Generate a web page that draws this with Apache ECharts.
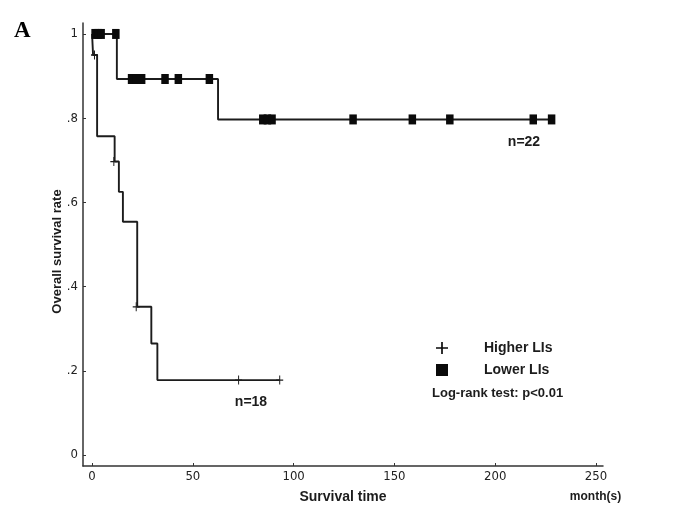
<!DOCTYPE html>
<html>
<head>
<meta charset="utf-8">
<script src="https://cdn.jsdelivr.net/npm/echarts@6/dist/echarts.min.js"></script>
<style>
html,body{margin:0;padding:0;background:#fff;}
#chart{width:688px;height:527px;}
</style>
</head>
<body>
<div id="chart"></div>
<script>
// ---- data ----
const xTicks = [0, 50, 100, 150, 200, 250];
const yTicks = [0, 0.2, 0.4, 0.6, 0.8, 1];
const yTickLabels = ['0', '.2', '.4', '.6', '.8', '1'];

// Kaplan-Meier steps: [time of drop, new survival level]
const higherSteps = [[0,1],[0.5,0.95],[2.5,0.757],[11.2,0.697],[13.3,0.625],[15.3,0.554],[22.4,0.352],[29.4,0.265],[32.4,0.178],[93.1,0.178]];
const higherCensored = [[1.2,0.95],[10.8,0.697],[21.9,0.352],[72.7,0.178],[93.1,0.178]];

const lowerSteps = [[0,1],[12.3,0.893],[62.5,0.797],[228,0.797]];
const lowerCensored = [[1.5,1],[3,1],[4.5,1],[11.8,1],
  [19.6,0.893],[22,0.893],[24.6,0.893],[36.2,0.893],[42.8,0.893],[58.2,0.893],
  [84.7,0.797],[87,0.797],[89.3,0.797],[129.5,0.797],[158.9,0.797],[177.5,0.797],[218.9,0.797],[228,0.797]];

const seriesNames = ['Higher LIs', 'Lower LIs'];

// ---- chart ----
const crossPath = 'path://M4.3,0h1.4v10h-1.4zM0,4.3h10v1.4h-10z';
const ink = '#1c1c1c';
const tickFont = 'Liberation Sans Narrow, DejaVu Sans Condensed, Arial, sans-serif';
const boldFont = 'Liberation Sans, Arial, sans-serif';

const chart = echarts.init(document.getElementById('chart'), null, {renderer: 'canvas'});
chart.setOption({
  animation: false,
  backgroundColor: '#fff',
  grid: {left: 83, right: 85, top: 23, bottom: 61, containLabel: false},
  xAxis: {
    type: 'value', min: -4.5, max: 253.5,
    name: 'Survival time', nameLocation: 'middle', nameGap: 24, nameMoveOverlap: false,
    nameTextStyle: {fontFamily: boldFont, fontWeight: 'bold', fontSize: 14, color: ink},
    axisLine: {show: true, onZero: false, lineStyle: {color: '#333', width: 1.5}},
    axisTick: {show: true, inside: true, length: 3, customValues: xTicks, lineStyle: {color: '#333', width: 1}},
    axisLabel: {customValues: xTicks, margin: 4, fontFamily: tickFont, fontSize: 13, color: '#222'},
    splitLine: {show: false}
  },
  yAxis: {
    type: 'value', min: -0.026, max: 1.026,
    name: 'Overall survival rate', nameLocation: 'middle', nameGap: 19, nameRotate: 90, nameMoveOverlap: false,
    nameTextStyle: {fontFamily: boldFont, fontWeight: 'bold', fontSize: 13, color: ink, padding: [0, 14, 0, 0]},
    axisLine: {show: true, onZero: false, lineStyle: {color: '#333', width: 1.5}},
    axisTick: {show: true, inside: true, length: 3, customValues: yTicks, lineStyle: {color: '#333', width: 1}},
    axisLabel: {customValues: yTicks, margin: 5, fontFamily: tickFont, fontSize: 13, color: '#222',
      formatter: function (v) { const i = yTicks.findIndex(t => Math.abs(t - v) < 1e-6); return i >= 0 ? yTickLabels[i] : ''; }},
    splitLine: {show: false}
  },
  legend: {
    orient: 'vertical', left: 431, top: 336, itemWidth: 12, itemHeight: 12, itemGap: 8,
    data: [{name: seriesNames[0], icon: crossPath}, {name: seriesNames[1], icon: 'rect'}],
    textStyle: {fontFamily: boldFont, fontWeight: 'bold', fontSize: 14, color: ink, padding: [0, 0, 0, 31]},
    itemStyle: {color: '#0a0a0a', opacity: 1}
  },
  series: [
    {type: 'line', name: 'higherCurve', data: higherSteps, step: 'end', showSymbol: false, symbol: 'none',
      lineStyle: {color: ink, width: 1.9}, z: 2},
    {type: 'line', name: 'lowerCurve', data: lowerSteps, step: 'end', showSymbol: false, symbol: 'none',
      lineStyle: {color: ink, width: 1.9}, z: 2},
    {type: 'scatter', name: seriesNames[0], data: higherCensored, symbol: crossPath, symbolSize: [7, 9],
      itemStyle: {color: ink, opacity: 1}, z: 3},
    {type: 'scatter', name: seriesNames[1], data: lowerCensored, symbol: 'rect', symbolSize: [7.5, 10],
      itemStyle: {color: '#0a0a0a', opacity: 1}, z: 3}
  ],
  graphic: [
    {type: 'text', left: 14, top: 20, style: {text: 'A', font: 'bold 23px "Liberation Serif", "Times New Roman", serif', fill: '#000'}},
    {type: 'text', x: 524, y: 142, style: {text: 'n=22', font: 'bold 14px "Liberation Sans", Arial, sans-serif', fill: ink, align: 'center', verticalAlign: 'middle'}},
    {type: 'text', x: 251, y: 402, style: {text: 'n=18', font: 'bold 14px "Liberation Sans", Arial, sans-serif', fill: ink, align: 'center', verticalAlign: 'middle'}},
    {type: 'text', x: 432, y: 393, style: {text: 'Log-rank test: p<0.01', font: 'bold 13px "Liberation Sans", Arial, sans-serif', fill: ink, align: 'left', verticalAlign: 'middle'}},
    {type: 'text', x: 595.5, y: 497, style: {text: 'month(s)', font: 'bold 12px "Liberation Sans", Arial, sans-serif', fill: ink, align: 'center', verticalAlign: 'middle'}}
  ]
});
</script>
</body>
</html>
